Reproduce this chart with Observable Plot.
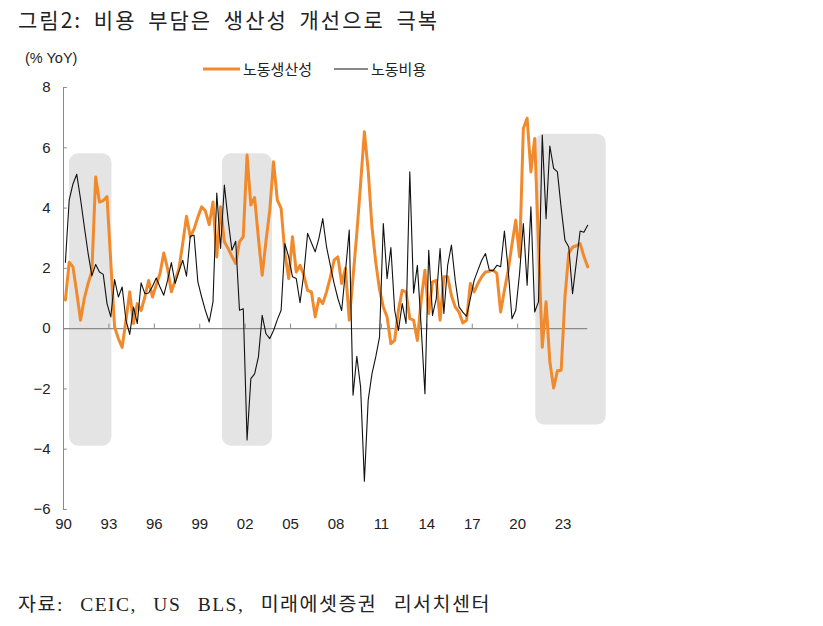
<!DOCTYPE html>
<html><head><meta charset="utf-8">
<script src="https://cdn.jsdelivr.net/npm/d3@7"></script>
<script src="https://cdn.jsdelivr.net/npm/@observablehq/plot@0.6"></script>
<style>
body{margin:0;background:#fff;width:823px;height:626px;position:relative;overflow:hidden;font-family:"Noto Sans CJK KR",sans-serif;color:#222;}
#title{position:absolute;left:18px;top:4px;font-size:21px;letter-spacing:2px;word-spacing:5px;white-space:nowrap;}
#chart{position:absolute;left:0;top:42px;}
#ylab{position:absolute;left:25px;top:50px;font-size:14.5px;font-family:"Liberation Sans",Arial,sans-serif;}
#legend{position:absolute;left:203px;top:58px;font-size:15px;display:flex;align-items:center;white-space:nowrap;}
#legend .sw{display:inline-block;margin-right:3px;}
#source{position:absolute;left:18px;top:588px;font-size:19.5px;letter-spacing:1.5px;word-spacing:10px;font-family:"Liberation Serif","Noto Sans CJK KR",serif;white-space:nowrap;}
</style></head>
<body>
<div id="title">그림2: 비용 부담은 생산성 개선으로 극복</div>
<div id="ylab">(% YoY)</div>
<div id="legend"></div>
<div id="chart"></div>
<div id="source">자료: CEIC, US BLS, 미래에셋증권 리서치센터</div>
<script>
// Quarterly data, 1990Q1 – 2024Q3 (% YoY)
const startYear = 1990;
const seriesNames = ["노동생산성", "노동비용"];
const productivity = [
 0.95,2.2,2.05,1.2,0.28,1.0,1.5,1.9,5.03,4.2,4.25,4.38,2.2,0.05,-0.33,-0.62,
 0.28,1.22,0.17,0.83,0.6,1.05,1.6,1.05,1.45,1.83,2.51,1.99,1.22,1.6,1.99,2.82,
 3.73,3.05,3.3,3.7,4.04,3.9,3.45,4.2,2.38,4.04,2.88,2.66,2.4,2.16,2.88,3.05,
 5.76,4.1,4.35,3.0,1.77,2.9,3.93,5.54,4.26,3.99,2.49,1.66,3.05,1.88,2.1,1.77,
 1.27,1.22,0.39,1.0,0.83,1.22,1.7,2.27,2.38,1.5,2.0,0.28,1.7,3.16,4.8,6.53,
 5.26,3.38,2.2,1.3,0.72,0.39,-0.5,-0.39,0.61,1.27,1.22,0.33,0.28,-0.39,0.94,1.94,
 0.5,1.55,1.6,0.28,1.72,1.72,1.1,0.72,0.55,0.19,0.28,1.5,1.22,1.5,1.72,1.88,
 1.9,1.94,1.83,0.55,1.27,1.94,2.8,3.6,2.38,6.64,6.98,5.2,6.31,2.8,-0.62,0.89,
 -1.1,-1.97,-1.4,-1.38,1.05,2.5,2.7,2.75,2.82,2.4,2.05
];
const laborCost = [
 2.2,4.26,4.8,5.12,4.3,3.38,2.5,1.75,2.13,1.88,1.8,0.83,0.39,1.63,1.05,1.38,
 0.28,-0.19,0.72,0.17,1.52,1.16,1.18,1.4,1.68,1.38,1.11,1.6,2.19,1.5,1.9,2.27,
 1.74,3.07,3.1,1.55,1.05,0.6,0.22,0.89,4.5,2.66,4.76,3.6,2.6,2.9,0.61,0.66,
 -3.69,-1.66,-1.5,-0.94,0.44,-0.17,-0.33,-0.06,0.3,0.61,2.82,2.38,1.72,1.66,0.86,1.83,
 3.16,2.85,2.55,3.0,3.65,2.71,2.1,1.5,1.0,0.6,1.9,3.27,-2.21,-0.92,-1.94,-5.06,
 -2.38,-1.5,-0.94,-0.28,3.49,1.66,2.69,0.61,-0.06,0.83,0.17,5.2,1.18,2.1,0.06,-2.16,
 2.6,0.44,1.0,2.66,0.5,2.1,2.77,1.6,0.72,0.55,0.41,1.0,1.6,1.94,2.27,2.49,
 1.94,1.92,2.1,2.05,3.24,1.94,0.33,0.61,1.83,3.49,1.44,4.04,0.55,0.89,6.42,3.65,
 6.06,5.32,5.2,4.0,2.93,2.71,1.16,2.2,3.24,3.2,3.43
];
// shaded periods
const shadeStart = [1990.4, 2000.5, 2021.2];
const shadeEnd = [1993.2, 2003.8, 2025.85];
const shadeTop = [5.8, 5.8, 6.45];
const shadeBottom = [-3.9, -3.9, -3.2];
const xTickYears = [1990,1993,1996,1999,2002,2005,2008,2011,2014,2017,2020,2023];
const yTicks = [-6,-4,-2,0,2,4,6,8];
const colors = ["#f08a2c", "#111111"];

const rows = productivity.map((p, i) => ({
  date: startYear + (i + 0.5) / 4,
  productivity: p,
  cost: laborCost[i]
}));
const lastDate = rows[rows.length - 1].date;
const shades = shadeStart.map((s, i) => ({x1: s, x2: shadeEnd[i], y1: shadeBottom[i], y2: shadeTop[i]}));

const chart = Plot.plot({
  width: 823, height: 502,
  marginLeft: 63, marginRight: 215, marginTop: 45, marginBottom: 35,
  x: {domain: [1990, 2026]},
  y: {domain: [-6, 8]},
  style: {fontFamily: "'Liberation Sans', Arial, sans-serif", fontSize: "15px", color: "#222", background: "transparent"},
  marks: [
    Plot.rect(shades, {x1: "x1", x2: "x2", y1: "y1", y2: "y2", fill: "#e4e4e4", rx: 9}),
    Plot.ruleY([0], {x1: 1990, x2: lastDate, stroke: "#8a8a8a", strokeWidth: 1.2}),
    Plot.ruleX(xTickYears, {x: d => d, y1: 0, y2: 0.15, stroke: "#8a8a8a"}),
    Plot.ruleX([1990], {y1: -6, y2: 8, stroke: "#8a8a8a"}),
    Plot.ruleY(yTicks, {y: d => d, x1: 1990, x2: 1990.25, stroke: "#8a8a8a"}),
    Plot.line(rows, {x: "date", y: "productivity", stroke: colors[0], strokeWidth: 3}),
    Plot.line(rows, {x: "date", y: "cost", stroke: colors[1], strokeWidth: 1.1}),
    Plot.axisX({ticks: xTickYears, tickFormat: d => String(d % 100).padStart(2, "0"), tickSize: 0, tickPadding: 9, label: null}),
    Plot.axisY({ticks: yTicks, tickSize: 0, tickPadding: 13, label: null})
  ]
});
document.getElementById("chart").appendChild(chart);

const legend = document.getElementById("legend");
seriesNames.forEach((name, i) => {
  const item = document.createElement("span");
  item.style.display = "inline-flex";
  item.style.alignItems = "center";
  item.style.marginRight = "22px";
  const w = i === 0 ? 37 : 34;
  const h = i === 0 ? 3 : 1;
  item.innerHTML = `<svg class="sw" width="${w}" height="10"><line x1="0" x2="${w}" y1="5" y2="5" stroke="${colors[i]}" stroke-width="${h}"/></svg><span>${name}</span>`;
  legend.appendChild(item);
});
</script>
</body></html>
